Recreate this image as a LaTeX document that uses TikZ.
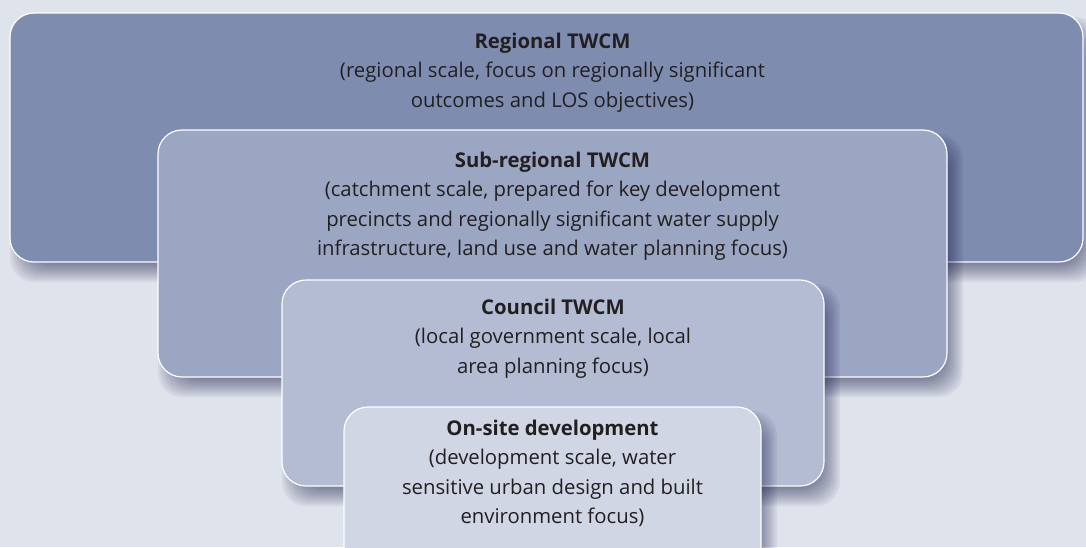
\documentclass[tikz,border=0pt]{standalone}
\usepackage{fontspec}
\setmainfont{Open Sans}
\usepackage{xcolor}
\usepackage{tikz}
\usetikzlibrary{positioning, fit, calc}

\definecolor{bgcol}{HTML}{DFE3EC}
\definecolor{regfill}{HTML}{7E8DAF}
\definecolor{subfill}{HTML}{9BA6C3}
\definecolor{councilfill}{HTML}{B3BCD3}
\definecolor{sitefill}{HTML}{D0D6E3}
\definecolor{inkcol}{HTML}{231F20}

% soft shadow from the two corners of a box
\newcommand{\softshadow}[2]{%
  \foreach \k in {0,...,9}{%
    \fill[black!80!blue, fill opacity=0.05, rounded corners=24pt]
      ($(#1)+({2*\k},{4+2*\k})$) rectangle ($(#2)+({16-2*\k},{20-2*\k})$);
  }}

\begin{document}
\begin{tikzpicture}[
    x=1pt, y=-1pt,
    tier/.style={rectangle, draw=white, line width=1.2pt, rounded corners=24pt, inner sep=0pt},
    tiertext/.style={align=center, inner sep=0pt, text=inkcol, font=\fontsize{20.3}{29.5}\selectfont}
]
    \useasboundingbox (0,0) rectangle (1086,547);
    \fill[bgcol] (0,0) rectangle (1086,547);

    % Regional TWCM
    \coordinate (reg-nw) at (10,13);
    \coordinate (reg-se) at (1083,262);
    \softshadow{reg-nw}{reg-se}
    \node[tier, fill=regfill, fit=(reg-nw) (reg-se)] (regional) {};
    \node[tiertext, below=95pt of regional.north, anchor=base, xshift=6pt] (regional-txt)
        {\textbf{Regional TWCM}\\(regional scale, focus on regionally significant\\outcomes and LOS objectives)};

    % Sub-regional TWCM
    \coordinate (sub-nw) at (158,130);
    \coordinate (sub-se) at (947,377);
    \softshadow{sub-nw}{sub-se}
    \node[tier, fill=subfill, fit=(sub-nw) (sub-se)] (subregional) {};
    \node[tiertext, below=126.5pt of subregional.north, anchor=base] (subregional-txt)
        {\textbf{Sub-regional TWCM}\\(catchment scale, prepared for key development\\precincts and regionally significant water supply\\infrastructure, land use and water planning focus)};

    % Council TWCM
    \coordinate (cou-nw) at (282,280);
    \coordinate (cou-se) at (824,486);
    \softshadow{cou-nw}{cou-se}
    \node[tier, fill=councilfill, fit=(cou-nw) (cou-se)] (council) {};
    \node[tiertext, below=94pt of council.north, anchor=base] (council-txt)
        {\textbf{Council TWCM}\\(local government scale, local\\area planning focus)};

    % On-site development
    \coordinate (site-nw) at (344,407);
    \coordinate (site-se) at (761,570);
    \softshadow{site-nw}{site-se}
    \node[tier, fill=sitefill, fit=(site-nw) (site-se)] (onsite) {};
    \node[tiertext, below=117.5pt of onsite.north, anchor=base] (onsite-txt)
        {\textbf{On-site development}\\(development scale, water\\sensitive urban design and built\\environment focus)};

\end{tikzpicture}
\end{document}
